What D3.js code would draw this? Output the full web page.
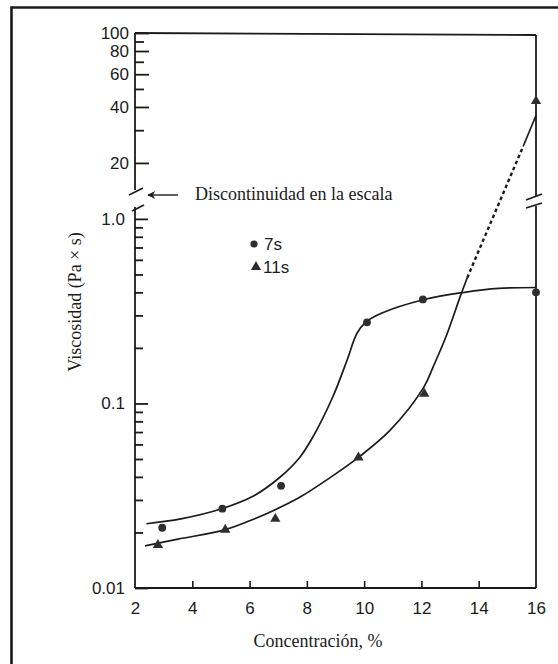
<!DOCTYPE html>
<html>
<head>
<meta charset="utf-8">
<script src="https://cdn.jsdelivr.net/npm/d3@7"></script>
<style>
  body { margin: 0; background: #fff; }
  svg { display: block; }
  .sans { font-family: "Liberation Sans", Arial, Helvetica, sans-serif; }
  .serif { font-family: "Liberation Serif", "Times New Roman", serif; }
</style>
</head>
<body>
<svg id="chart" width="558" height="664"></svg>
<script>
// Measured points: concentration (%) vs viscosity (Pa·s)
const conc7s  = [2.95, 5.05, 7.1, 10.1, 12.05, 16.0];
const visc7s  = [0.0212, 0.0269, 0.0358, 0.275, 0.366, 0.40];
const conc11s = [2.8, 5.15, 6.9, 9.8, 12.1, 16.0];
const visc11s = [0.0171, 0.0207, 0.0237, 0.0509, 0.113, 43];

// Smooth trend curves through each series
const fit7sX = [2.4, 3.6, 5.0, 6.1, 7.05, 7.75, 8.2, 8.9, 9.4, 9.75, 10.05, 10.6, 12.1, 13.5, 14.7, 16.0];
const fit7sY = [0.0223, 0.0237, 0.0268, 0.0313, 0.0397, 0.051, 0.0654, 0.108, 0.171, 0.24, 0.275, 0.308, 0.366, 0.40, 0.42, 0.425];
const fit11sX = [2.35, 3.5, 5.15, 6.2, 6.95, 7.75, 8.8, 9.8, 10.9, 12.09, 12.41, 12.88, 13.35, 13.6];
const fit11sY = [0.0169, 0.0184, 0.0207, 0.0238, 0.0268, 0.031, 0.0395, 0.051, 0.0714, 0.123, 0.158, 0.235, 0.378, 0.48];
// 11s curve: dotted extrapolation across the scale break, then solid on the upper scale
const ext11sX = [13.6, 15.55];
const ext11sY = [0.48, 24.5];
const top11sX = [15.55, 16.0];
const top11sY = [24.5, 36];

// Axis ticks
const xTicks = [2, 4, 6, 8, 10, 12, 14, 16];
const xTickLabels = ["2", "4", "6", "8", "10", "12", "14", "16"];
const upperMajor = [20, 40, 60, 80, 100];
const upperMajorLabels = ["20", "40", "60", "80", "100"];
const upperMinor = [30, 50, 70, 90];
const lowerMajor = [0.01, 0.1, 1];
const lowerMajorLabels = ["0.01", "0.1", "1.0"];
const lowerMinor = [0.02, 0.03, 0.04, 0.05, 0.06, 0.07, 0.08, 0.09,
                    0.2, 0.3, 0.4, 0.5, 0.6, 0.7, 0.8, 0.9];

const ink = "#1b1b1b";
const svg = d3.select("#chart");

// Outer frame (left and top edges)
svg.append("path")
  .attr("d", "M11.5,670 L11.5,7.5 L565,7.5")
  .attr("fill", "none").attr("stroke", ink).attr("stroke-width", 2.6);

// Scales: linear x, two log y scales split by a break
const x = d3.scaleLinear().domain([2, 16]).range([135, 536]);
const yUp = d3.scaleLog().domain([14.3, 100]).range([190, 33]);
const yLow = d3.scaleLog().domain([0.01, 1.16]).range([588, 207]);
const yOf = v => (v >= 10 ? yUp(v) : yLow(v));

const x0 = x(2), x1 = x(16);

// Axis lines
const frame = svg.append("g").attr("stroke", ink).attr("stroke-width", 1.8).attr("fill", "none");
frame.append("line").attr("x1", x0).attr("x2", x1).attr("y1", yUp(100)).attr("y2", yUp(100) + 2); // top
frame.append("line").attr("x1", x0).attr("x2", x1).attr("y1", yLow(0.01)).attr("y2", yLow(0.01)); // bottom
frame.append("line").attr("x1", x0).attr("x2", x0).attr("y1", yUp(100)).attr("y2", 190);
frame.append("line").attr("x1", x0).attr("x2", x0).attr("y1", 207).attr("y2", yLow(0.01));
frame.append("line").attr("x1", x1).attr("x2", x1).attr("y1", yUp(100) + 2).attr("y2", 196);
frame.append("line").attr("x1", x1).attr("x2", x1).attr("y1", 206).attr("y2", yLow(0.01));

// Break marks
const brk = svg.append("g").attr("stroke", ink).attr("stroke-width", 1.8);
brk.append("line").attr("x1", x0 - 6).attr("y1", 195).attr("x2", x0 + 8).attr("y2", 188);
brk.append("line").attr("x1", x0 - 3).attr("y1", 211).attr("x2", x0 + 9).attr("y2", 205);
brk.append("line").attr("x1", x1 - 10).attr("y1", 200).attr("x2", x1 + 6).attr("y2", 194);
brk.append("line").attr("x1", x1 - 10).attr("y1", 208).attr("x2", x1 + 6).attr("y2", 203);

// Y axes: major ticks with labels, minor ticks without
function yAxis(scale, values, labels, size, pad) {
  const g = svg.append("g")
    .attr("transform", `translate(${x0},0)`)
    .call(d3.axisLeft(scale).tickValues(values)
      .tickFormat((d, i) => labels ? labels[i] : "")
      .tickSizeInner(-size).tickSizeOuter(0).tickPadding(pad));
  g.select(".domain").remove();
  g.selectAll(".tick line").attr("stroke", ink).attr("stroke-width", 1.8);
  g.selectAll(".tick text").attr("class", "sans").attr("fill", ink)
    .attr("font-size", 17).attr("x", -pad);
  return g;
}
yAxis(yUp, upperMajor, upperMajorLabels, 14, 6);
yAxis(yUp, upperMinor, null, 9, 6);
yAxis(yLow, lowerMajor, lowerMajorLabels, 13, 10);
yAxis(yLow, lowerMinor, null, 8, 10);

// X axis: labels at every value, short inward ticks inside the frame
const xg = svg.append("g")
  .attr("transform", `translate(0,${yLow(0.01)})`)
  .call(d3.axisBottom(x).tickValues(xTicks)
    .tickFormat((d, i) => xTickLabels[i])
    .tickSizeInner(0).tickSizeOuter(0).tickPadding(14));
xg.select(".domain").remove();
xg.selectAll(".tick text").attr("class", "sans").attr("fill", ink).attr("font-size", 17);
const xm = svg.append("g")
  .attr("transform", `translate(0,${yLow(0.01)})`)
  .call(d3.axisBottom(x).tickValues(xTicks.slice(1, -1)).tickFormat("")
    .tickSizeInner(-7).tickSizeOuter(0));
xm.select(".domain").remove();
xm.selectAll(".tick line").attr("stroke", ink).attr("stroke-width", 1.6);

// Curves
const line = d3.line().x(d => x(d[0])).y(d => yOf(d[1])).curve(d3.curveCatmullRom.alpha(0.5));
const straight = d3.line().x(d => x(d[0])).y(d => yOf(d[1]));
const curves = svg.append("g").attr("fill", "none").attr("stroke", ink).attr("stroke-width", 1.7);
curves.append("path").attr("d", line(fit7sX.map((v, i) => [v, fit7sY[i]])));
curves.append("path").attr("d", line(fit11sX.map((v, i) => [v, fit11sY[i]])));
curves.append("path").attr("d", straight(ext11sX.map((v, i) => [v, ext11sY[i]])))
  .attr("stroke-width", 2.4).attr("stroke-dasharray", "3.5,3");
curves.append("path").attr("d", straight(top11sX.map((v, i) => [v, top11sY[i]])));

// Markers
const marks = svg.append("g").attr("fill", "#2e2e2e");
marks.selectAll("circle").data(conc7s).join("circle")
  .attr("cx", d => x(d)).attr("cy", (d, i) => yOf(visc7s[i])).attr("r", 3.9);
const tri = d3.symbol(d3.symbolTriangle, 46);
marks.selectAll("path.t").data(conc11s).join("path").attr("class", "t")
  .attr("d", tri).attr("transform", (d, i) => `translate(${x(d)},${yOf(visc11s[i])})`);

// Legend
const lg = svg.append("g");
lg.append("circle").attr("cx", 254).attr("cy", 244).attr("r", 3.6).attr("fill", "#2e2e2e");
lg.append("path").attr("d", tri).attr("transform", "translate(256,267)").attr("fill", "#2e2e2e");
lg.append("text").attr("class", "sans").attr("x", 264).attr("y", 250).attr("font-size", 17).attr("fill", ink).text("7s");
lg.append("text").attr("class", "sans").attr("x", 263).attr("y", 273).attr("font-size", 17).attr("fill", ink).text("11s");

// Scale-break annotation
svg.append("defs").append("marker").attr("id", "arrowhead")
  .attr("viewBox", "0 0 10 10").attr("refX", 9).attr("refY", 5)
  .attr("markerWidth", 10).attr("markerHeight", 8).attr("markerUnits", "userSpaceOnUse")
  .attr("orient", "auto")
  .append("path").attr("d", "M0,0 L10,5 L0,10 L3,5 Z").attr("fill", ink);
svg.append("line").attr("x1", 178).attr("y1", 195).attr("x2", 148).attr("y2", 195)
  .attr("stroke", ink).attr("stroke-width", 1.4).attr("marker-end", "url(#arrowhead)");
svg.append("text").attr("class", "serif").attr("x", 195).attr("y", 200)
  .attr("font-size", 18).attr("fill", ink).text("Discontinuidad en la escala");

// Axis titles
svg.append("text").attr("class", "serif")
  .attr("transform", "translate(81,302) rotate(-90)")
  .attr("text-anchor", "middle").attr("font-size", 18).attr("fill", ink)
  .text("Viscosidad (Pa × s)");
svg.append("text").attr("class", "serif").attr("x", 318).attr("y", 647)
  .attr("text-anchor", "middle").attr("font-size", 18).attr("fill", ink)
  .text("Concentración, %");
</script>
</body>
</html>
